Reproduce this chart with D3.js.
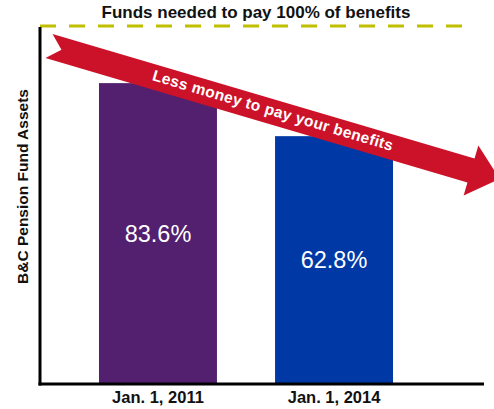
<!DOCTYPE html>
<html>
<head>
<meta charset="utf-8">
<script src="https://cdn.jsdelivr.net/npm/d3@7"></script>
<style>
  html, body { margin: 0; padding: 0; background: #fff; }
  svg { display: block; font-family: "Liberation Sans", Arial, sans-serif; }
</style>
</head>
<body>
<svg id="chart"></svg>
<script>
// data
const categories = ["Jan. 1, 2011", "Jan. 1, 2014"];
const fundedPct = [83.6, 62.8];
const valueDomain = [-34, 106];   // value axis as drawn (not from zero)
const titleText = "Funds needed to pay 100% of benefits";
const arrowText = "Less money to pay your benefits";
const yTitle = "B&C Pension Fund Assets";

const width = 494;
const height = 409;
const plot = { left: 40, right: 484, top: 26, bottom: 383 };

const svg = d3.select("#chart")
  .attr("width", width)
  .attr("height", height);

const x = d3.scaleBand()
  .domain(categories)
  .range([plot.left, 452])
  .paddingInner(0.33)
  .paddingOuter(0.335);

const y = d3.scaleLinear()
  .domain(valueDomain)
  .range([plot.bottom, plot.top]);

const color = d3.scaleOrdinal()
  .domain(categories)
  .range(["#52206f", "#0039a6"]);

const rows = categories.map((c, i) => ({ cat: c, value: fundedPct[i] }));

// bars
svg.selectAll("rect.bar")
  .data(rows)
  .enter().append("rect")
  .attr("class", "bar")
  .attr("x", d => x(d.cat))
  .attr("y", d => y(d.value))
  .attr("width", x.bandwidth())
  .attr("height", d => y(valueDomain[0]) - y(d.value))
  .attr("fill", d => color(d.cat));

// value labels in the middle of each bar
svg.selectAll("text.value")
  .data(rows)
  .enter().append("text")
  .attr("class", "value")
  .attr("x", d => x(d.cat) + x.bandwidth() / 2)
  .attr("y", d => (y(d.value) + y(valueDomain[0])) / 2 + 8.5)
  .attr("text-anchor", "middle")
  .attr("fill", "#fff")
  .style("font-size", "23.5px")
  .text(d => d.value.toFixed(1) + "%");

// dashed 100% line at the top of the plot
svg.append("line")
  .attr("x1", plot.left)
  .attr("x2", 472)
  .attr("y1", y.range()[1])
  .attr("y2", y.range()[1])
  .attr("stroke", "#bfbf00")
  .attr("stroke-width", 3)
  .attr("stroke-dasharray", "16,13");

svg.append("text")
  .attr("x", 256)
  .attr("y", 18)
  .attr("text-anchor", "middle")
  .style("font-size", "17px")
  .style("font-weight", "bold")
  .attr("fill", "#111")
  .text(titleText);

// axis lines
svg.append("line")
  .attr("x1", plot.left).attr("x2", plot.left)
  .attr("y1", 27).attr("y2", 385.5)
  .attr("stroke", "#000").attr("stroke-width", 3);

svg.append("line")
  .attr("x1", plot.left - 1.5).attr("x2", plot.right)
  .attr("y1", 384).attr("y2", 384)
  .attr("stroke", "#000").attr("stroke-width", 3);

// category labels
const xAxis = svg.append("g")
  .attr("transform", `translate(0,${plot.bottom})`)
  .call(d3.axisBottom(x).tickSize(0).tickPadding(0));
xAxis.select(".domain").remove();
xAxis.selectAll("text")
  .attr("dy", null)
  .attr("y", 20)
  .attr("fill", "#111")
  .style("font-family", "'Liberation Sans', Arial, sans-serif")
  .style("font-size", "16.5px")
  .style("font-weight", "bold");

// y axis title
svg.append("text")
  .attr("transform", "translate(27.5,186.5) rotate(-90)")
  .attr("text-anchor", "middle")
  .style("font-size", "15.5px")
  .style("font-weight", "bold")
  .attr("fill", "#111")
  .text(yTitle);

// red trend arrow
const tail = [49, 46], head = [471, 170.5];
const ang = Math.atan2(head[1] - tail[1], head[0] - tail[0]);
const u = [Math.cos(ang), Math.sin(ang)];
const n = [-Math.sin(ang), Math.cos(ang)];
const shaftHalf = 12.5, headHalf = 26, headLen = 30, notch = 13;
const pt = (p, a, b) => [p[0] + u[0] * a + n[0] * b, p[1] + u[1] * a + n[1] * b];
const arrowPts = [
  pt(tail, 0, -shaftHalf),
  pt(head, 0, -shaftHalf),
  pt(head, 0, -headHalf),
  pt(head, headLen, 0),
  pt(head, 0, headHalf),
  pt(head, 0, shaftHalf),
  pt(tail, 0, shaftHalf),
  pt(tail, notch, 0)
];
svg.append("path")
  .attr("d", d3.line()(arrowPts) + "Z")
  .attr("fill", "#cc1228");

svg.append("text")
  .attr("transform", `translate(271.5,115.5) rotate(${ang * 180 / Math.PI})`)
  .attr("text-anchor", "middle")
  .attr("fill", "#fff")
  .style("font-size", "15.5px")
  .style("font-weight", "bold")
  .style("letter-spacing", "0.3px")
  .text(arrowText);
</script>
</body>
</html>
